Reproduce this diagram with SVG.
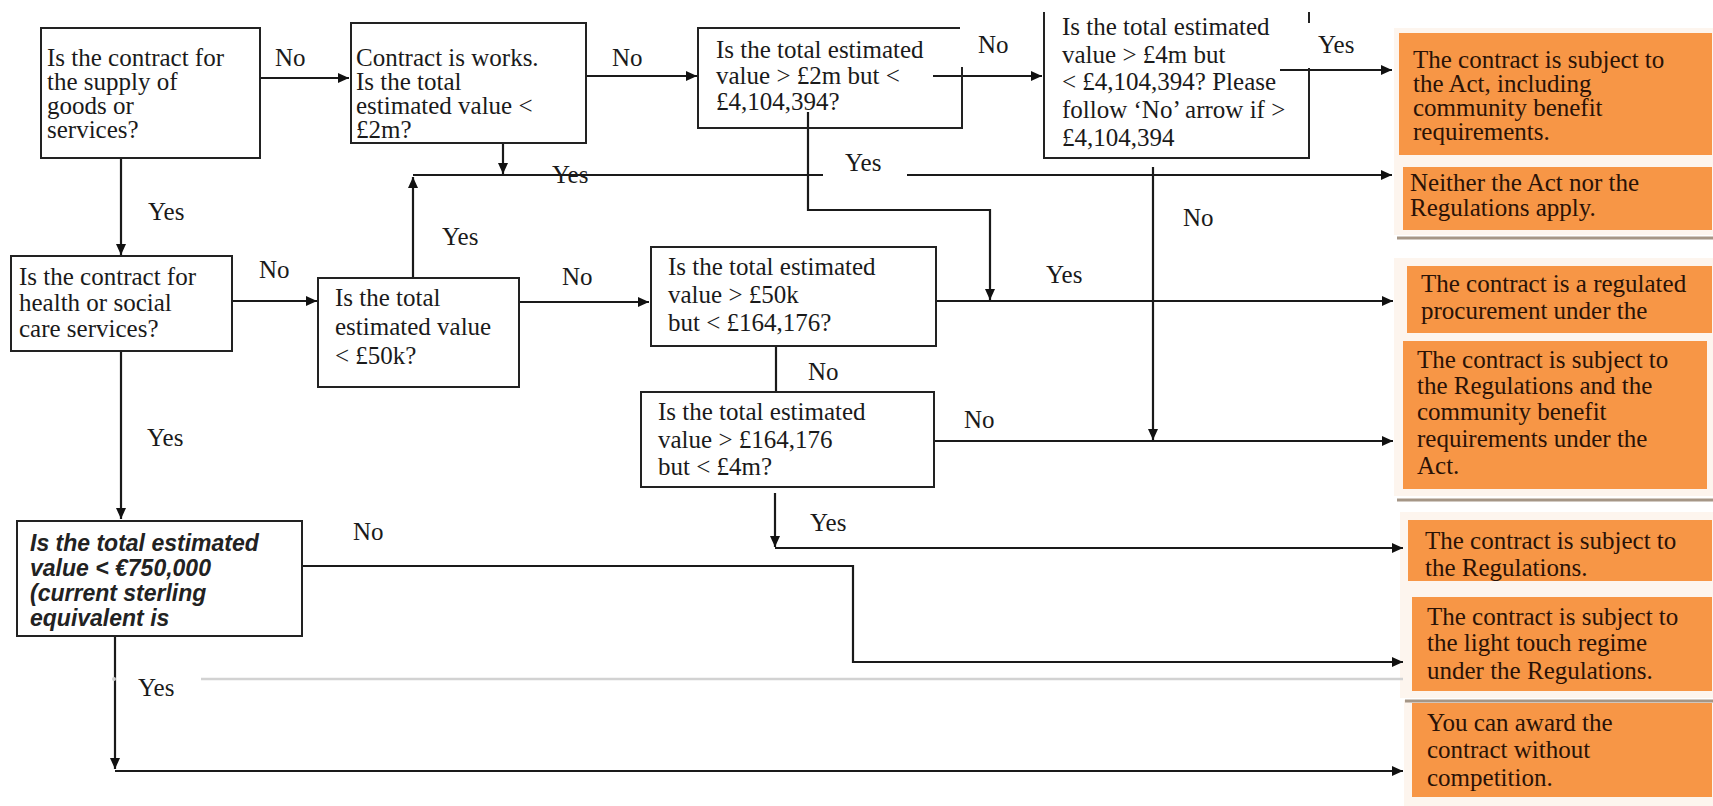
<svg xmlns="http://www.w3.org/2000/svg" width="1713" height="806" viewBox="0 0 1713 806">
<defs>
<marker id="ah" markerUnits="userSpaceOnUse" markerWidth="12" markerHeight="10" refX="11" refY="5" orient="auto">
<path d="M0,0 L11,5 L0,10 z" fill="#111"/>
</marker>
<clipPath id="clipO5"><rect x="1408" y="520" width="304" height="61"/></clipPath>
<style>
.box{fill:#fff;stroke:#222;stroke-width:2}
.edge{fill:none;stroke:#222;stroke-width:2}
.c{fill:none;stroke:#1a1a1a;stroke-width:2.2}
.t{font-family:"Liberation Serif","Times New Roman",serif;font-size:25px;fill:#1a1a1a}
.it{font-family:"Liberation Sans",Arial,sans-serif;font-size:23px;font-style:italic;font-weight:bold;fill:#222}
.lbl{font-family:"Liberation Serif","Times New Roman",serif;font-size:25px;fill:#1a1a1a}
.o{fill:#f79646}
.ot{font-family:"Liberation Serif","Times New Roman",serif;font-size:25px;fill:#2a1206}
.bg{fill:#fdf5ee}
.sh{stroke:#a59686;stroke-width:3}
</style>
</defs>
<rect width="1713" height="806" fill="#fff"/>

<g id="backgrounds">
<rect class="bg" x="1394" y="28" width="319" height="207"/>
<rect class="bg" x="1394" y="258" width="319" height="238"/>
<rect class="bg" x="1400" y="512" width="313" height="186"/>
<rect class="bg" x="1404" y="700" width="309" height="106"/>
<line class="sh" x1="1397" y1="238" x2="1713" y2="238"/>
<line class="sh" x1="1397" y1="500" x2="1713" y2="500"/>
<line class="sh" x1="1405" y1="701" x2="1713" y2="701"/>
</g>

<g id="connectors">
<path class="c" d="M243,78 H349" marker-end="url(#ah)"/>
<path class="c" d="M586,76 H697" marker-end="url(#ah)"/>
<path class="c" d="M933,76 H1042" marker-end="url(#ah)"/>
<path class="c" d="M1280,70 H1392" marker-end="url(#ah)"/>
<path class="c" d="M503,117 V174" marker-end="url(#ah)"/>
<path class="c" d="M413,175 H823"/>
<path class="c" d="M907,175 H1392" marker-end="url(#ah)"/>
<path class="c" d="M413,278 V177" marker-end="url(#ah)"/>
<path class="c" d="M808,112 V210 H990 V300" marker-end="url(#ah)"/>
<path class="c" d="M933,301 H1393" marker-end="url(#ah)"/>
<path class="c" d="M1153,167 V440" marker-end="url(#ah)"/>
<path class="c" d="M930,441 H1393" marker-end="url(#ah)"/>
<path class="c" d="M121,122 V255" marker-end="url(#ah)"/>
<path class="c" d="M232,301 H317" marker-end="url(#ah)"/>
<path class="c" d="M519,302 H649" marker-end="url(#ah)"/>
<path class="c" d="M776,347 V405" marker-end="url(#ah)"/>
<path class="c" d="M775,493 V547" marker-end="url(#ah)"/>
<path class="c" d="M775,548 H1403" marker-end="url(#ah)"/>
<path class="c" d="M121,351 V519" marker-end="url(#ah)"/>
<path class="c" d="M302,566 H853 V662 H1403" marker-end="url(#ah)"/>
<path class="c" d="M115,636 V769" marker-end="url(#ah)"/>
<path class="c" d="M115,771 H1403" marker-end="url(#ah)"/>
<line x1="201" y1="679" x2="1403" y2="679" stroke="#d2d2d2" stroke-width="2.5"/>
<circle cx="114" cy="679" r="2" fill="#ccc"/>
</g>

<g id="labels">
<text class="lbl" x="275" y="66">No</text>
<text class="lbl" x="612" y="66">No</text>
<text class="lbl" x="978" y="53">No</text>
<text class="lbl" x="1318" y="53">Yes</text>
<text class="lbl" x="552" y="183">Yes</text>
<text class="lbl" x="845" y="171">Yes</text>
<text class="lbl" x="442" y="245">Yes</text>
<text class="lbl" x="148" y="220">Yes</text>
<text class="lbl" x="259" y="278">No</text>
<text class="lbl" x="562" y="285">No</text>
<text class="lbl" x="1046" y="283">Yes</text>
<text class="lbl" x="1183" y="226">No</text>
<text class="lbl" x="808" y="380">No</text>
<text class="lbl" x="964" y="428">No</text>
<text class="lbl" x="810" y="531">Yes</text>
<text class="lbl" x="147" y="446">Yes</text>
<text class="lbl" x="353" y="540">No</text>
<text class="lbl" x="138" y="696">Yes</text>
</g>

<g id="q-supply">
<rect class="box" x="41" y="28" width="219" height="130"/>
<text class="t" x="47" y="66">Is the contract for</text>
<text class="t" x="47" y="90">the supply of</text>
<text class="t" x="47" y="114">goods or</text>
<text class="t" x="47" y="138">services?</text>
</g>

<g id="q-works">
<rect class="box" x="351" y="23" width="235" height="120"/>
<text class="t" x="356" y="66">Contract is works.</text>
<text class="t" x="356" y="90">Is the total</text>
<text class="t" x="356" y="114">estimated value &lt;</text>
<text class="t" x="356" y="138">£2m?</text>
</g>

<g id="q-2m">
<path class="edge" d="M962,67 V128 H698 V28 H960"/>
<text class="t" x="716" y="58">Is the total estimated</text>
<text class="t" x="716" y="84">value &gt; £2m but &lt;</text>
<text class="t" x="716" y="110">£4,104,394?</text>
</g>

<g id="q-4m">
<path class="edge" d="M1044,12 V158 H1309 V68 M1309,12 V23"/>
<text class="t" x="1062" y="35">Is the total estimated</text>
<text class="t" x="1062" y="63">value &gt; £4m but</text>
<text class="t" x="1062" y="90">&lt; £4,104,394? Please</text>
<text class="t" x="1062" y="118">follow ‘No’ arrow if &gt;</text>
<text class="t" x="1062" y="146">£4,104,394</text>
</g>

<g id="q-health">
<rect class="box" x="11" y="256" width="221" height="95"/>
<text class="t" x="19" y="285">Is the contract for</text>
<text class="t" x="19" y="311">health or social</text>
<text class="t" x="19" y="337">care services?</text>
</g>

<g id="q-50k">
<rect class="box" x="318" y="278" width="201" height="109"/>
<text class="t" x="335" y="306">Is the total</text>
<text class="t" x="335" y="335">estimated value</text>
<text class="t" x="335" y="364">&lt; £50k?</text>
</g>

<g id="q-164k">
<rect class="box" x="651" y="247" width="285" height="99"/>
<text class="t" x="668" y="275">Is the total estimated</text>
<text class="t" x="668" y="303">value &gt; £50k</text>
<text class="t" x="668" y="331">but &lt; £164,176?</text>
</g>

<g id="q-164k-4m">
<rect class="box" x="641" y="392" width="293" height="95"/>
<text class="t" x="658" y="420">Is the total estimated</text>
<text class="t" x="658" y="448">value &gt; £164,176</text>
<text class="t" x="658" y="475">but &lt; £4m?</text>
</g>

<g id="q-750k">
<rect class="box" x="17" y="521" width="285" height="115"/>
<text class="it" x="30" y="551">Is the total estimated</text>
<text class="it" x="30" y="576">value &lt; €750,000</text>
<text class="it" x="30" y="601">(current sterling</text>
<text class="it" x="30" y="626">equivalent is</text>
</g>

<g id="r-act">
<rect class="o" x="1399" y="33" width="313" height="122"/>
<text class="ot" x="1413" y="68">The contract is subject to</text>
<text class="ot" x="1413" y="92">the Act, including</text>
<text class="ot" x="1413" y="116">community benefit</text>
<text class="ot" x="1413" y="140">requirements.</text>
</g>

<g id="r-neither">
<rect class="o" x="1403" y="167" width="309" height="63"/>
<text class="ot" x="1410" y="191">Neither the Act nor the</text>
<text class="ot" x="1410" y="216">Regulations apply.</text>
</g>

<g id="r-regulated">
<rect class="o" x="1407" y="266" width="305" height="67"/>
<text class="ot" x="1421" y="292">The contract is a regulated</text>
<text class="ot" x="1421" y="319">procurement under the</text>
</g>

<g id="r-regs-cb">
<rect class="o" x="1403" y="341" width="304" height="148"/>
<text class="ot" x="1417" y="368">The contract is subject to</text>
<text class="ot" x="1417" y="394">the Regulations and the</text>
<text class="ot" x="1417" y="420">community benefit</text>
<text class="ot" x="1417" y="447">requirements under the</text>
<text class="ot" x="1417" y="474">Act.</text>
</g>

<g id="r-regs">
<rect class="o" x="1408" y="520" width="304" height="61"/>
<g clip-path="url(#clipO5)">
<text class="ot" x="1425" y="549">The contract is subject to</text>
<text class="ot" x="1425" y="576">the Regulations.</text>
</g>
</g>

<g id="r-light">
<rect class="o" x="1412" y="597" width="300" height="94"/>
<text class="ot" x="1427" y="625">The contract is subject to</text>
<text class="ot" x="1427" y="651">the light touch regime</text>
<text class="ot" x="1427" y="679">under the Regulations.</text>
</g>

<g id="r-award">
<rect class="o" x="1412" y="703" width="300" height="94"/>
<text class="ot" x="1427" y="731">You can award the</text>
<text class="ot" x="1427" y="758">contract without</text>
<text class="ot" x="1427" y="786">competition.</text>
</g>
</svg>
